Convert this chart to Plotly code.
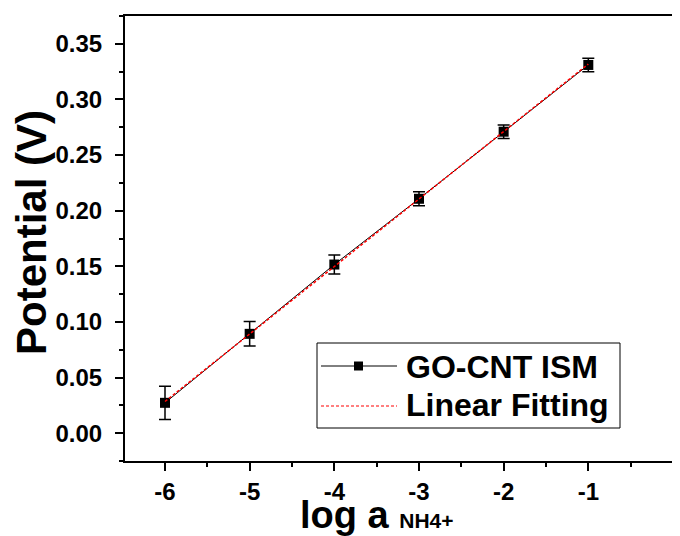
import plotly.graph_objects as go

# Data
log_a = [-6, -5, -4, -3, -2, -1]
potential = [0.0273, 0.0893, 0.1516, 0.2107, 0.2710, 0.3310]
potential_err = [0.0150, 0.0110, 0.0085, 0.0063, 0.0060, 0.0060]

fit_x = [-6, -1]
fit_y = [0.0285, 0.3318]

x_ticks = [-6, -5, -4, -3, -2, -1]
x_tick_text = ["-6", "-5", "-4", "-3", "-2", "-1"]
y_ticks = [0.00, 0.05, 0.10, 0.15, 0.20, 0.25, 0.30, 0.35]
y_tick_text = ["0.00", "0.05", "0.10", "0.15", "0.20", "0.25", "0.30", "0.35"]

FONT = "Liberation Sans, Arial, sans-serif"

# page body adds an 8px margin; the figure is sized to sit inside the window
OFF = 8
W, H = 680 - OFF, 536 - OFF
L, R, T, B = 125 - OFF, 0, 16 - OFF, 75
PW, PH = W - L - R, H - T - B


def px(x):
    # screen pixel -> paper coordinate
    return (x - OFF - L) / PW


def py(y):
    return (H - B - (y - OFF)) / PH


fig = go.Figure()
fig.add_trace(go.Scatter(
    x=log_a, y=potential, mode="lines+markers", name="GO-CNT ISM",
    line=dict(color="black", width=1),
    marker=dict(symbol="square", size=10, color="black"),
    error_y=dict(type="data", array=potential_err, visible=True,
                 color="black", thickness=1.5, width=6),
    showlegend=False,
))
fig.add_trace(go.Scatter(
    x=fit_x, y=fit_y, mode="lines", name="Linear Fitting",
    line=dict(color="red", width=1.5, dash="3px,2px"),
    showlegend=False,
))

axis_common = dict(
    showgrid=False, zeroline=False, showline=True, linecolor="black",
    linewidth=2, ticks="outside", ticklen=8, tickwidth=2, tickcolor="black",
    tickfont=dict(family=FONT, size=24, color="black", weight="bold"),
)

fig.update_xaxes(
    range=[-6.4725, 0.083], tickvals=x_ticks, ticktext=x_tick_text, mirror=True,
    minor=dict(dtick=0.5, tick0=0, ticks="outside", ticklen=4, tickwidth=2,
               tickcolor="black"),
    **axis_common,
)
fig.update_yaxes(
    range=[-0.025, 0.375], tickvals=y_ticks, ticktext=y_tick_text,
    ticklabelstandoff=8,
    minor=dict(dtick=0.025, tick0=0, ticks="outside", ticklen=4, tickwidth=2,
               tickcolor="black"),
    **axis_common,
)

shapes = [
    # legend frame
    dict(type="rect", xref="paper", yref="paper",
         x0=px(317), x1=px(620), y0=py(428), y1=py(343),
         line=dict(color="black", width=1), fillcolor="white", layer="above"),
    # legend sample: data line
    dict(type="line", xref="paper", yref="paper",
         x0=px(321), x1=px(397), y0=py(366), y1=py(366),
         line=dict(color="black", width=1), layer="above"),
    dict(type="rect", xref="paper", yref="paper",
         x0=px(354), x1=px(363), y0=py(370.5), y1=py(361.5),
         line=dict(color="black", width=0), fillcolor="black", layer="above"),
    # legend sample: fit line
    dict(type="line", xref="paper", yref="paper",
         x0=px(321), x1=px(397), y0=py(406), y1=py(406),
         line=dict(color="red", width=1.2, dash="3px,2px"), layer="above"),
]

annotations = [
    dict(text="GO-CNT ISM", xref="paper", yref="paper", x=px(404), y=py(367),
         xanchor="left", yanchor="middle", showarrow=False,
         font=dict(family=FONT, size=32, color="black", weight="bold")),
    dict(text="Linear Fitting", xref="paper", yref="paper", x=px(404), y=py(405),
         xanchor="left", yanchor="middle", showarrow=False,
         font=dict(family=FONT, size=32, color="black", weight="bold")),
    dict(text="Potential (V)", xref="paper", yref="paper", x=px(31), y=py(233),
         xanchor="center", yanchor="middle", textangle=-90, showarrow=False,
         font=dict(family=FONT, size=42, color="black", weight="bold")),
    dict(text="log a <span style='font-size:21px'>NH4+</span>", xref="paper",
         yref="paper", x=px(377), y=py(538), xanchor="center", yanchor="bottom",
         showarrow=False,
         font=dict(family=FONT, size=38, color="black", weight="bold")),
]

fig.update_layout(
    width=W, height=H,
    margin=dict(l=L, r=R, t=T, b=B, pad=0),
    paper_bgcolor="white", plot_bgcolor="white",
    shapes=shapes, annotations=annotations,
)

fig.write_html("out.html")
